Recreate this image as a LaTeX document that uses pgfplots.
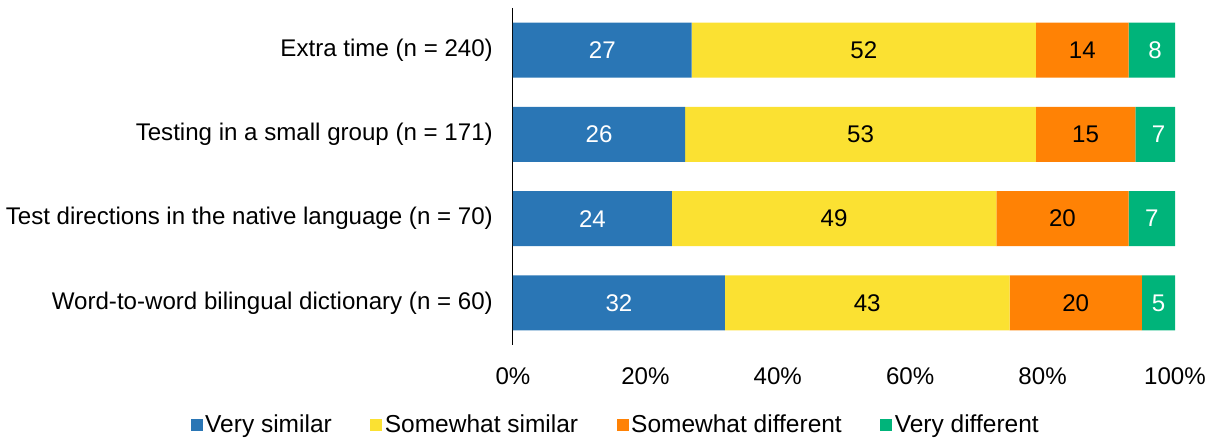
\documentclass[border=0pt]{standalone}
\usepackage{fontspec}
\setmainfont{Liberation Sans}
\usepackage{pgfplots}
\usepackage{pgfplotstable}
\pgfplotsset{compat=1.18}

\definecolor{cblue}{RGB}{42,118,181}
\definecolor{cyellow}{RGB}{251,225,50}
\definecolor{corange}{RGB}{255,130,5}
\definecolor{cgreen}{RGB}{0,180,122}

% Percent of students per accommodation (row 0 = top bar)
\pgfplotstableread{
y v
0 27
1 26
2 24
3 32
}\verysimilar
\pgfplotstableread{
y v
0 52
1 53
2 49
3 43
}\somewhatsimilar
\pgfplotstableread{
y v
0 14
1 15
2 20
3 20
}\somewhatdifferent
\pgfplotstableread{
y v
0 8
1 7
2 7
3 5
}\verydifferent

\newcommand{\lblfont}{\fontsize{24.1}{28}\selectfont}
\newcommand{\legfont}{\fontsize{24.5}{28}\selectfont}

\pgfplotsset{
  barframe/.style={
    scale only axis, width=662pt, height=337pt,
    xbar stacked, bar width=55pt,
    xmin=0, xmax=100, ymin=-0.5, ymax=3.5, y dir=reverse,
  },
}

\begin{document}
\begin{tikzpicture}
% bars, ticks and legend
\begin{axis}[
  barframe,
  ytick={0,1,2,3},
  yticklabels={Extra time (n = 240),Testing in a small group (n = 171),Test directions in the native language (n = 70),Word-to-word bilingual dictionary (n = 60)},
  xtick={0,20,40,60,80,100},
  /pgf/number format/assume math mode=true,
  xticklabel={\pgfmathprintnumber{\tick}\%},
  axis x line*=bottom, axis y line*=left,
  x axis line style={draw=none},
  y axis line style={black, line width=1pt, -},
  major tick length=0pt,
  tick label style={font=\lblfont},
  yticklabel style={inner sep=0pt, xshift=-20pt},
  xticklabel style={inner sep=0pt, yshift=-22pt},
  legend style={at={(rel axis cs:0.1556,-0.237)}, anchor=center, draw=none,
    font=\legfont, legend columns=4, inner sep=0pt,
    nodes={inner xsep=2.5pt, inner ysep=0pt},
    /tikz/every even column/.append style={column sep=36pt}},
  legend image code/.code={\fill[#1] (0pt,-6pt) rectangle (12pt,6pt);},
  legend cell align=left,
]
\addplot[fill=cblue, draw=none] table[x=v, y=y] {\verysimilar};
\addplot[fill=cyellow, draw=none] table[x=v, y=y] {\somewhatsimilar};
\addplot[fill=corange, draw=none] table[x=v, y=y] {\somewhatdifferent};
\addplot[fill=cgreen, draw=none] table[x=v, y=y] {\verydifferent};
\legend{Very similar, Somewhat similar, Somewhat different, Very different}
\coordinate (bbl) at (rel axis cs:-0.7749,-0.2819);
\coordinate (btr) at (rel axis cs:1.0589,1.0237);
\end{axis}
% value labels centred in each segment (unclipped)
\begin{axis}[
  barframe, hide axis, clip=false,
  point meta=explicit symbolic,
  nodes near coords={\pgfplotspointmeta},
  every node near coord/.append style={anchor=center, font=\lblfont},
]
\addplot[fill=none, draw=none, every node near coord/.append style={text=white}] table[x=v, y=y, meta=v] {\verysimilar};
\addplot[fill=none, draw=none, every node near coord/.append style={text=black}] table[x=v, y=y, meta=v] {\somewhatsimilar};
\addplot[fill=none, draw=none, every node near coord/.append style={text=black}] table[x=v, y=y, meta=v] {\somewhatdifferent};
\addplot[fill=none, draw=none, every node near coord/.append style={text=white}] table[x=v, y=y, meta=v] {\verydifferent};
\end{axis}
\pgfresetboundingbox
\path[use as bounding box] (bbl) rectangle (btr);
\end{tikzpicture}
\end{document}
